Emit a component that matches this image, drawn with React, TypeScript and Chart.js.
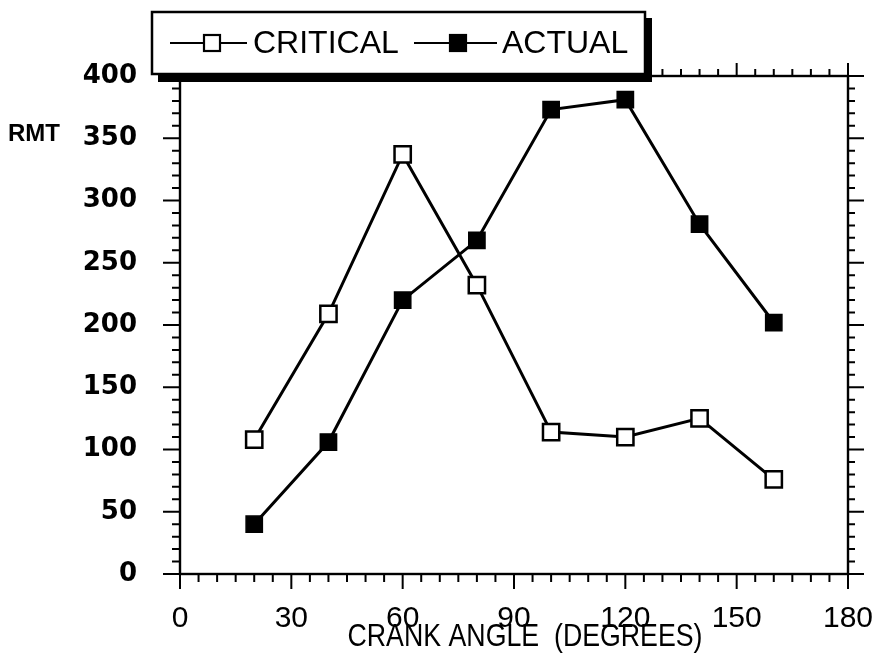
import React, { useEffect, useRef } from 'react';
import { Chart, registerables } from 'chart.js';

Chart.register(...registerables);

// ---- Data ----
const crankAngles = [20, 40, 60, 80, 100, 120, 140, 160];
const criticalRmt = [108, 209, 337, 232, 114, 110, 125, 76];
const actualRmt = [40, 106, 220, 268, 373, 381, 281, 202];
const seriesLabels = ['CRITICAL', 'ACTUAL'];
const xAxisTitle = 'CRANK ANGLE  (DEGREES)';
const yAxisTitle = 'RMT';
const xMin = 0;
const xMax = 180;
const xStep = 30;
const yMin = 0;
const yMax = 400;
const yStep = 50;

const SANS = "'Liberation Sans', Arial, Helvetica, sans-serif";

const framePlugin = {
  id: 'frameTicks',
  beforeDatasetsDraw(chart: any) {
    const { ctx, chartArea: a, scales } = chart;
    const xs = scales.x;
    const ys = scales.y;
    ctx.save();
    ctx.strokeStyle = '#000';
    ctx.lineWidth = 2.4;
    ctx.strokeRect(a.left, a.top, a.right - a.left, a.bottom - a.top);
    ctx.lineWidth = 2;
    ctx.beginPath();
    for (let v = xMin; v <= xMax; v += 5) {
      const px = xs.getPixelForValue(v);
      const major = v % xStep === 0;
      ctx.moveTo(px, a.bottom);
      ctx.lineTo(px, a.bottom + (major ? 15 : 8));
      ctx.moveTo(px, a.top);
      ctx.lineTo(px, a.top - (major ? 13 : 7));
    }
    for (let v = yMin; v <= yMax; v += 10) {
      const py = ys.getPixelForValue(v);
      const major = v % yStep === 0;
      ctx.moveTo(a.left, py);
      ctx.lineTo(a.left - (major ? 17 : 8), py);
      ctx.moveTo(a.right, py);
      ctx.lineTo(a.right + (major ? 16 : 7), py);
    }
    ctx.stroke();
    ctx.restore();
  },
  afterDraw(chart: any) {
    const { ctx } = chart;
    const ds = chart.data.datasets;
    ctx.save();
    // Y label
    ctx.fillStyle = '#000';
    ctx.font = `bold 24px ${SANS}`;
    ctx.textAlign = 'left';
    ctx.textBaseline = 'middle';
    ctx.fillText(yAxisTitle, 8, 134);

    // X title (slightly condensed)
    ctx.font = `31px ${SANS}`;
    const w = ctx.measureText(xAxisTitle).width;
    const target = 355;
    ctx.save();
    ctx.translate(525, 637);
    ctx.scale(target / w, 1);
    ctx.textAlign = 'center';
    ctx.textBaseline = 'middle';
    ctx.fillText(xAxisTitle, 0, 0);
    ctx.restore();

    // Legend box with shadow
    ctx.fillStyle = '#000';
    ctx.fillRect(158, 18, 494, 64);
    ctx.fillStyle = '#fff';
    ctx.fillRect(152, 12, 493, 62);
    ctx.strokeStyle = '#000';
    ctx.lineWidth = 2.5;
    ctx.strokeRect(152, 12, 493, 62);

    const ly = 43;
    const items = [
      { x1: 170, x2: 247, mx: 212, tx: 253, fill: ds[0].pointBackgroundColor, label: ds[0].label },
      { x1: 414, x2: 497, mx: 458, tx: 502, fill: ds[1].pointBackgroundColor, label: ds[1].label },
    ];
    items.forEach((it) => {
      ctx.lineWidth = 2.2;
      ctx.beginPath();
      ctx.moveTo(it.x1, ly);
      ctx.lineTo(it.x2, ly);
      ctx.stroke();
      ctx.fillStyle = it.fill;
      ctx.fillRect(it.mx - 8, ly - 8, 16, 16);
      ctx.strokeRect(it.mx - 8, ly - 8, 16, 16);
      ctx.fillStyle = '#000';
      ctx.font = `32px ${SANS}`;
      ctx.textAlign = 'left';
      ctx.textBaseline = 'middle';
      ctx.fillText(it.label, it.tx, ly + 1);
    });
    ctx.restore();
  },
};

export default function App() {
  const canvasRef = useRef<HTMLCanvasElement | null>(null);

  useEffect(() => {
    const canvas = canvasRef.current;
    if (!canvas) return;
    const chart = new Chart(canvas, {
      type: 'line',
      data: {
        datasets: [
          {
            label: seriesLabels[0],
            data: crankAngles.map((x, i) => ({ x, y: criticalRmt[i] })),
            borderColor: '#000',
            borderWidth: 3,
            pointStyle: 'rect',
            pointRadius: 11.5,
            pointBorderWidth: 2.5,
            pointBackgroundColor: '#fff',
            pointBorderColor: '#000',
            tension: 0,
          },
          {
            label: seriesLabels[1],
            data: crankAngles.map((x, i) => ({ x, y: actualRmt[i] })),
            borderColor: '#000',
            borderWidth: 3,
            pointStyle: 'rect',
            pointRadius: 11.5,
            pointBorderWidth: 1.5,
            pointBackgroundColor: '#000',
            pointBorderColor: '#000',
            tension: 0,
          },
        ],
      },
      options: {
        responsive: false,
        animation: false,
        devicePixelRatio: 1,
        layout: { padding: { top: 76, right: 37, left: 0, bottom: 0 } },
        plugins: { legend: { display: false }, tooltip: { enabled: false } },
        scales: {
          x: {
            type: 'linear',
            min: xMin,
            max: xMax,
            grid: { display: false, drawTicks: false },
            border: { display: false },
            ticks: {
              stepSize: xStep,
              color: '#000',
              padding: 27,
              maxRotation: 0,
              font: { family: SANS, size: 30 },
            },
            afterFit(scale: any) {
              scale.height = 92;
              scale.paddingLeft = 0;
              scale.paddingRight = 0;
            },
          },
          y: {
            type: 'linear',
            min: yMin,
            max: yMax,
            grid: { display: false, drawTicks: false },
            border: { display: false },
            ticks: {
              stepSize: yStep,
              color: '#000',
              padding: 43,
              font: { family: "'DejaVu Sans', sans-serif", size: 26, weight: 'bold' },
            },
            afterFit(scale: any) {
              scale.width = 180;
            },
          },
        },
      },
      plugins: [framePlugin],
    });
    return () => chart.destroy();
  }, []);

  return (
    <div style={{ position: 'absolute', left: 0, top: 0, width: 885, height: 666, background: '#fff' }}>
      <canvas ref={canvasRef} width={885} height={666} style={{ display: 'block' }} />
    </div>
  );
}
